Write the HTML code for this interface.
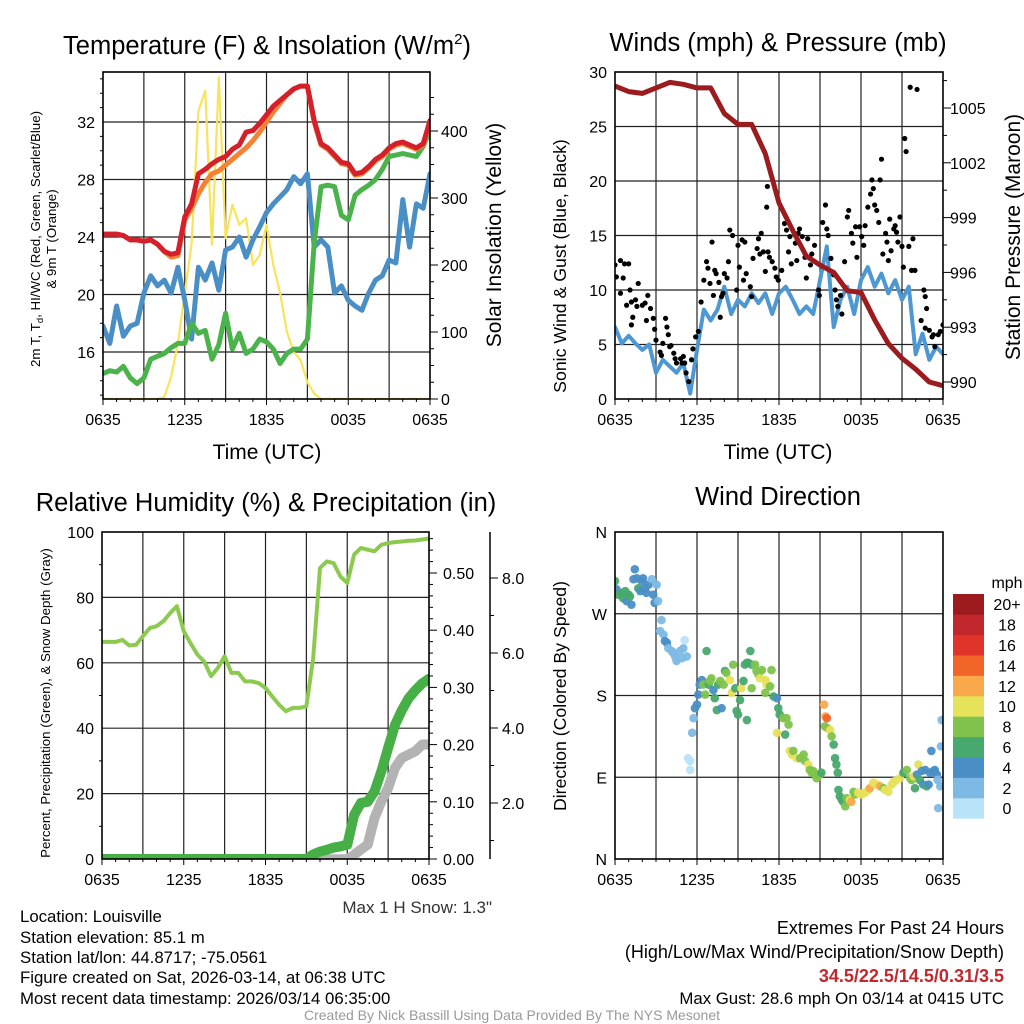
<!DOCTYPE html>
<html><head><meta charset="utf-8"><style>
html,body{margin:0;padding:0;background:#fff;}
svg{display:block;font-family:"Liberation Sans",Arial,sans-serif;}
</style></head><body>
<svg id="c" width="1024" height="1024" viewBox="0 0 1024 1024" xmlns="http://www.w3.org/2000/svg">
<defs>
<clipPath id="cp1"><rect x="103" y="72" width="327" height="327"/></clipPath>
<clipPath id="cp2"><rect x="615" y="72" width="328" height="327"/></clipPath>
<clipPath id="cp3"><rect x="102" y="532" width="327" height="327"/></clipPath>
<clipPath id="cp4"><rect x="615" y="532" width="328" height="327"/></clipPath>
</defs>
<g font-size="25.5" text-anchor="middle" fill="#000">
<text x="267" y="54">Temperature (F) &amp; Insolation (W/m<tspan font-size="15" dy="-10">2</tspan><tspan dy="10">)</tspan></text>
<text x="778" y="51">Winds (mph) &amp; Pressure (mb)</text>
<text x="266" y="511">Relative Humidity (%) &amp; Precipitation (in)</text>
<text x="778" y="505">Wind Direction</text>
</g>
<g font-size="21" text-anchor="middle">
<text x="267" y="459">Time (UTC)</text>
<text x="778" y="459">Time (UTC)</text>
<text transform="translate(501,235) rotate(-90)">Solar Insolation (Yellow)</text>
<text transform="translate(1020,237) rotate(-90)">Station Pressure (Maroon)</text>
</g>
<g font-size="17.7" text-anchor="middle">
<text transform="translate(566,266) rotate(-90)">Sonic Wind &amp; Gust (Blue, Black)</text>
<text transform="translate(566,696) rotate(-90)">Direction (Colored By Speed)</text>
</g>
<g font-size="13.3" text-anchor="middle">
<text transform="translate(40,239) rotate(-90)">2m T, T<tspan font-size="9.5" dy="3">d</tspan><tspan dy="-3">, HI/WC (Red, Green, Scarlet/Blue)</tspan></text>
<text transform="translate(56,239) rotate(-90)">&amp; 9m T (Orange)</text>
<text transform="translate(50,703) rotate(-90)">Percent, Precipitation (Green), &amp; Snow Depth (Gray)</text>
</g>
<g id="layer"></g>
<g font-size="16.8" fill="#000">
<text x="20" y="922">Location: Louisville</text>
<text x="20" y="943">Station elevation: 85.1 m</text>
<text x="20" y="963">Station lat/lon: 44.8717; -75.0561</text>
<text x="20" y="983">Figure created on Sat, 2026-03-14, at 06:38 UTC</text>
<text x="20" y="1004">Most recent data timestamp: 2026/03/14 06:35:00</text>
<text x="492" y="913" text-anchor="end" fill="#333" font-size="17">Max 1 H Snow: 1.3"</text>
<text x="1004" y="934" text-anchor="end" font-size="18">Extremes For Past 24 Hours</text>
<text x="1004" y="958" text-anchor="end" font-size="18">(High/Low/Max Wind/Precipitation/Snow Depth)</text>
<text x="1004" y="982" text-anchor="end" font-size="18" font-weight="bold" fill="#c1272d">34.5/22.5/14.5/0.31/3.5</text>
<text x="1004" y="1004" text-anchor="end">Max Gust: 28.6 mph On 03/14 at 0415 UTC</text>
<text x="512" y="1020" text-anchor="middle" font-size="14" fill="#999">Created By Nick Bassill Using Data Provided By The NYS Mesonet</text>
</g>
</svg>
<script>
// ---- data (time in hours since 0635 UTC) ----
const timeLabels=["0635","1235","1835","0035","0635"];
const tempRed=[24.2,24.2,24.2,24.1,23.8,23.8,23.7,23.8,23.5,23.0,22.8,22.9,25.4,26.3,28.4,28.7,29.1,29.4,29.6,30.1,30.4,31.3,31.4,31.9,32.5,33.1,33.5,33.9,34.3,34.5,34.5,32.1,30.5,30.2,29.7,29.2,29.1,28.4,28.5,28.9,29.4,29.7,30.2,30.5,30.6,30.4,30.2,30.5,32.1];
const tempOrange=[24.2,24.2,24.2,24.1,23.8,23.8,23.7,23.8,23.5,23.0,22.6,22.7,25.2,26.0,27.0,27.8,28.4,28.6,29.0,29.4,29.8,30.2,30.7,31.3,32.0,32.7,33.3,33.9,34.3,34.5,34.5,32.0,30.4,30.1,29.6,29.1,29.0,28.3,28.4,28.8,29.3,29.6,30.1,30.4,30.5,30.3,30.1,30.4,32.0];
const dewGreen=[14.5,14.7,14.6,15.0,14.2,13.8,14.2,15.5,15.7,15.9,16.3,16.6,16.6,18.0,17.3,17.5,15.5,16.5,18.7,16.2,17.3,15.9,16.2,16.9,16.7,16.2,15.2,15.9,16.2,16.2,16.9,23.6,27.5,27.6,27.5,25.5,25.2,26.9,27.3,27.6,28.0,28.7,29.6,29.7,29.8,29.7,29.6,30.3,31.4];
const chillBlue=[17.8,16.6,19.2,17.1,17.8,18.0,20.1,21.3,20.6,21.0,20.1,21.9,19.6,16.9,21.9,21.0,22.2,20.3,23.1,23.3,24.0,22.6,23.8,24.7,25.7,26.3,26.8,27.3,28.2,27.7,28.4,23.3,23.8,23.3,20.1,20.6,19.6,19.2,18.9,20.1,21.0,21.3,22.4,22.2,26.6,23.3,26.3,26.0,28.4];
const solar=[0,0,0,0,0,0,0,0,0,3,33,83,158,232,430,460,230,480,240,290,260,270,200,215,260,200,158,100,70,58,25,8,0,0,0,0,0,0,0,0,0,0,0,0,0,0,0,0,0];
const windSonic=[6.6,5.1,5.8,5.1,4.5,5.0,2.4,3.6,3.0,2.4,3.3,0.5,4.5,8.2,7.2,8.2,10.3,7.8,9.1,8.5,9.7,8.8,9.7,7.8,9.7,10.3,9.1,7.8,8.5,7.8,10.9,14.0,6.6,9.1,10.3,7.8,10.9,12.1,10.3,11.5,9.7,10.9,9.1,10.3,4.1,6.0,3.6,4.8,4.1];
const pressure=[1006.2,1005.9,1005.8,1006.1,1006.4,1006.3,1006.1,1006.1,1004.7,1004.1,1004.1,1002.5,999.8,998.3,996.9,996.4,996.0,995.0,994.9,993.4,992.1,991.3,990.7,990.0,989.8];
const gustT=[0,0.1,0.4,0.6,0.4,0.7,1.0,1.1,0.85,1.2,1.5,1.7,1.6,1.3,1.2,2.0,2.2,2.4,2.6,2.3,2.8,2.9,3.0,3.3,3.4,3.7,3.8,3.9,3.5,4.0,4.1,4.3,4.4,4.5,4.8,4.9,5.0,5.1,5.2,5.4,5.6,5.7,5.9,6.1,6.3,6.5,6.7,6.8,6.95,7.1,7.2,7.3,7.4,7.6,7.7,7.8,7.9,8.0,8.2,8.3,8.4,8.6,8.9,9.0,9.1,9.3,9.4,9.5,9.6,9.9,10.0,10.1,10.4,10.5,10.6,10.7,10.85,11.0,11.1,11.15,11.2,11.3,11.5,11.7,11.8,11.95,12.2,12.4,12.55,12.7,12.8,12.9,13.2,13.3,13.4,13.5,13.7,13.9,14.0,14.1,14.3,14.4,14.6,14.9,14.95,15.2,15.4,15.5,15.6,15.8,16.0,16.1,16.2,16.3,16.5,16.6,16.8,17.0,17.1,17.3,17.4,17.6,17.7,17.9,18.05,18.2,18.3,18.5,18.7,18.8,18.9,19.0,19.15,19.3,19.4,19.5,19.6,19.8,19.9,20.0,20.1,20.2,20.4,20.5,20.6,20.7,20.85,21.0,21.1,21.2,21.3,21.5,21.6,21.7,21.8,21.95,22.1,22.6,22.7,22.8,22.4,22.7,23.0,23.2,23.3,23.4,23.65,23.8,24.0];
const gustV=[12.3,11.2,12.7,11.1,9.7,12.4,12.4,10.0,8.6,8.9,9.1,10.6,8.5,7.5,6.8,8.6,8.8,9.5,8.3,7.2,7.4,6.4,5.4,4.3,4.0,7.4,6.6,5.9,5.1,4.8,4.9,4.2,3.7,3.3,3.7,3.3,3.9,3.3,2.4,1.6,3.6,4.6,5.7,6.2,8.9,10.9,12.6,12.0,10.6,14.4,9.5,11.8,11.5,10.7,7.5,9.4,9.7,11.5,11.1,12.6,15.5,15.0,10.0,14.1,12.1,14.6,10.9,14.4,11.5,10.3,9.4,12.9,13.8,14.7,13.3,15.2,13.5,11.7,17.6,19.5,13.5,13.0,12.6,12.0,11.2,10.9,11.8,16.1,15.5,13.5,14.9,12.4,14.3,12.7,15.2,15.6,14.9,13.0,11.1,14.7,12.3,13.3,14.1,10.0,9.5,16.2,17.8,15.6,15.0,12.9,11.4,10.0,9.1,8.5,9.5,7.8,12.6,16.7,17.3,15.2,14.3,15.8,13.0,15.8,14.9,14.1,15.9,17.6,18.8,20.1,19.3,17.8,17.3,16.2,20.1,22.0,13.3,15.2,14.4,12.7,16.5,13.6,15.6,15.9,15.3,14.4,16.7,14.0,12.1,23.9,22.7,14.0,28.6,11.8,14.7,11.8,28.4,10.0,9.4,8.3,7.2,6.5,6.3,5.7,5.9,4.8,5.9,6.2,6.8];
const rhGreen=[66.4,66.4,66.4,67,65.3,65.5,68.1,70.6,71.2,72.7,75.2,77.3,69.6,66.0,62.5,60.4,55.9,58.4,62.0,56.9,56.9,54.3,54.3,53.8,52.3,49.7,47.2,45.2,46.2,46.2,46.7,61.5,89,91,90.5,86.4,84.4,93.1,95.1,94.6,94.1,96.1,96.6,96.9,97.1,97.3,97.4,97.7,98.0];
const precip=[0,0,0,0,0,0,0,0,0,0,0,0,0,0,0,0,0,0,0,0,0,0,0,0,0,0,0,0,0,0,0,0.008,0.013,0.016,0.02,0.022,0.025,0.077,0.098,0.10,0.118,0.153,0.194,0.234,0.26,0.281,0.295,0.307,0.315];
const snowDepth=[0.5,0.5,0.5,0.5,0.5,0.5,0.5,0.5,0.5,0.5,0.5,0.5,0.5,0.5,0.5,0.5,0.5,0.5,0.5,0.5,0.5,0.5,0.5,0.5,0.5,0.5,0.5,0.5,0.5,0.5,0.5,0.5,0.5,0.5,0.5,0.5,0.5,0.62,0.76,0.89,1.6,2.04,2.4,2.93,3.2,3.29,3.38,3.56,3.56];
const dirT=[0,0.1,0.25,0.5,0.6,0.75,0.85,1.0,1.1,1.2,1.35,1.45,1.6,1.7,1.85,1.95,2.05,2.2,2.3,2.45,2.7,2.8,2.9,3.05,3.15,3.4,3.3,3.55,3.65,3.8,3.9,4.15,4.25,4.4,4.5,4.75,5.0,5.1,5.25,4.9,5.5,5.35,5.5,5.65,5.75,5.85,6.0,6.1,6.2,6.35,6.45,6.6,6.7,6.85,6.95,7.05,7.2,7.3,7.45,7.55,7.7,7.8,7.95,8.05,8.15,8.4,8.55,8.65,8.8,8.9,9.0,9.15,9.25,9.4,9.65,9.9,10.0,9.5,9.65,9.75,10.0,10.25,10.35,10.5,10.6,10.75,11.0,11.1,11.2,11.35,11.0,11.45,11.6,11.85,11.95,12.05,12.3,12.55,11.85,12.45,12.7,12.8,12.95,13.05,13.3,13.55,13.8,13.9,14.15,14.25,14.4,14.5,14.65,14.75,15.0,15.1,15.3,15.4,15.5,15.55,15.35,15.75,15.85,16.0,16.1,16.2,16.3,16.35,16.45,16.6,16.7,16.85,16.95,17.2,17.3,17.45,17.55,17.8,18.05,18.3,18.55,18.65,18.9,19.15,19.4,19.65,19.75,20.0,20.25,20.35,20.5,20.85,21.1,21.35,21.6,21.7,21.85,21.95,22.1,22.2,22.3,22.45,22.55,22.7,22.8,22.95,23.05,23.15,23.3,23.4,23.55,23.6,23.65,23.8,23.85,23.9];
const dirDeg=[306,297,291,293,287,295,284,291,289,280,308,319,309,298,295,306,309,298,293,302,308,291,282,302,284,263,251,247,240,238,232,229,227,223,218,229,232,241,223,221,108,111,98,139,155,166,170,181,192,197,192,181,229,192,196,199,186,177,164,192,196,166,192,207,205,197,183,214,188,163,159,175,188,196,153,229,188,214,216,216,214,214,207,203,199,208,197,192,192,190,183,208,179,177,166,159,155,155,139,137,148,119,115,119,111,111,115,108,104,98,95,97,93,89,93,95,170,157,155,144,146,142,135,126,111,104,95,76,69,65,63,58,67,65,63,74,71,73,71,73,76,78,84,82,80,78,76,74,82,84,86,89,95,98,89,87,91,78,93,104,87,97,82,98,80,82,95,119,97,98,93,87,56,80,124,153,155,177];
const dirSpd=[6,4,6,6,6,6,4,6,6,4,4,4,4,6,4,4,4,4,4,4,2,4,4,2,2,2,2,2,4,4,2,2,2,2,2,2,2,0,2,2,0,0,0,2,2,4,4,4,4,4,8,8,6,6,8,8,4,6,6,6,8,4,8,6,8,10,10,8,6,6,6,6,10,6,6,6,8,6,6,6,6,8,8,8,10,8,10,10,10,8,8,8,6,4,6,6,8,8,10,6,8,10,10,8,10,8,8,8,10,8,8,8,8,8,8,6,12,12,14,12,8,10,8,6,6,6,6,6,6,6,6,8,8,10,12,8,8,10,10,10,10,12,10,10,12,8,10,10,10,10,10,10,6,8,8,8,10,6,4,10,6,4,4,4,6,4,4,4,4,4,4,2,2,2,2,2,4];
const speedColors=["#b9e3f8","#7db9e5","#4a8ec6","#48a96e","#7fc34d","#e6e25a","#f9a94b","#f26529","#e0342b","#c1272d","#9b1b1e"];
const speedLabels=["0","2","4","6","8","10","12","14","16","18","20+"];

const NS="http://www.w3.org/2000/svg";
const L=document.getElementById('layer');
const FS=16;
function mk(tag,attrs,parent){const e=document.createElementNS(NS,tag);for(const k in attrs)e.setAttribute(k,attrs[k]);(parent||L).appendChild(e);return e;}
function lin(d0,d1,r0,r1){return v=>r0+(v-d0)/(d1-d0)*(r1-r0);}
const P1={x0:103,x1:430,y0:72,y1:399},P2={x0:615,x1:943,y0:72,y1:399},P3={x0:102,x1:429,y0:532,y1:859},P4={x0:615,x1:943,y0:532,y1:859};
function frame(P,name){
  const g=mk('g',{});
  
  
  const xs=lin(0,24,P.x0,P.x1);
  for(let h=3;h<24;h+=3){const l=mk('line',{x1:xs(h),x2:xs(h),y1:P.y0,y2:P.y1,stroke:'#222','stroke-width':1.2},g);
    }
  for(let h=0;h<=24;h+=1){mk('line',{x1:xs(h),x2:xs(h),y1:P.y1,y2:P.y1+(h%6==0?6:3),stroke:'#000'},g);}
  timeLabels.forEach((s,i)=>{const t=mk('text',{x:xs(i*6),y:P.y1+26,'font-size':FS,'text-anchor':'middle'},g);t.textContent=s;
    });
  return xs;
}
function hgrid(P,ys,vals,labels,side,g){
  vals.forEach((v,i)=>{
    const y=ys(v);
    if(y>P.y0+1&&y<P.y1-1){const l=mk('line',{x1:P.x0,x2:P.x1,y1:y,y2:y,stroke:'#222','stroke-width':1.2},g);
      }
    if(labels){const t=mk('text',{x:side=='left'?P.x0-8:P.x1+10,y:y+6,'font-size':FS,'text-anchor':side=='left'?'end':'start'},g);t.textContent=labels[i];
      }
  });
}
function rticks(x,ys,vals,labels,minor,g,lx){
  minor.forEach(v=>mk('line',{x1:x,x2:x+4,y1:ys(v),y2:ys(v),stroke:'#000'},g));
  vals.forEach((v,i)=>{mk('line',{x1:x,x2:x+8,y1:ys(v),y2:ys(v),stroke:'#000'},g);
    const t=mk('text',{x:lx,y:ys(v)+6,'font-size':FS},g);t.textContent=labels[i];
    });
}
function border(P){mk('rect',{x:P.x0,y:P.y0,width:P.x1-P.x0,height:P.y1-P.y0,fill:'none',stroke:'#000','stroke-width':1.6});}
function line(arr,xs,ys,color,w,clip,name,step){
  const pts=arr.map((v,i)=>xs(i*step).toFixed(1)+','+ys(v).toFixed(1)).join(' ');
  const p=mk('polyline',{points:pts,fill:'none',stroke:color,'stroke-width':w,'stroke-linejoin':'round','stroke-linecap':'round','clip-path':'url(#'+clip+')'});
  
  
  return p;
}
// Panel 1
{
  const xs=frame(P1,'temperature-panel');
  const yT=lin(16,32,352,122), yS=lin(0,400,399,131);
  const g=mk('g',{});
  hgrid(P1,yT,[16,20,24,28,32],["16","20","24","28","32"],'left',g);
  rticks(P1.x1,yS,[0,100,200,300,400],["0","100","200","300","400"],[25,50,75,125,150,175,225,250,275,325,350,375,425,450],g,P1.x1+11);
  [13,14,15,17,18,19,21,22,23,25,26,27,29,30,31,33,34,35].forEach(v=>mk('line',{x1:P1.x0,x2:P1.x0-3,y1:yT(v),y2:yT(v),stroke:'#000'}));
  line(solar,xs,yS,'#f8e45c',2.2,'cp1','solar-line',0.5);
  line(chillBlue,xs,yT,'#4a8ec6',5,'cp1','windchill-line',0.5);
  line(dewGreen,xs,yT,'#4bb34b',5,'cp1','dewpoint-line',0.5);
  line(tempOrange,xs,yT,'#f58233',5,'cp1','temp-9m-line',0.5);
  line(tempRed,xs,yT,'#d4202a',5,'cp1','temp-2m-line',0.5);
  border(P1);
}
// Panel 2
{
  const xs=frame(P2,'winds-panel');
  const yW=lin(0,30,399,72), yP=lin(990,1005,382,108);
  const g=mk('g',{});
  hgrid(P2,yW,[0,5,10,15,20,25,30],["0","5","10","15","20","25","30"],'left',g);
  rticks(P2.x1,yP,[990,993,996,999,1002,1005],["990","993","996","999","1002","1005"],[991.5,994.5,997.5,1000.5,1003.5,1006.5],g,P2.x1+7);
  line(windSonic,xs,yW,'#4d97d2',4,'cp2','sonic-wind-line',0.5);
  const gg=mk('g',{'clip-path':'url(#cp2)'});
  
  
  gustT.forEach((t,i)=>{const c=mk('circle',{cx:xs(t),cy:yW(gustV[i]),r:2.6,fill:'#000'},gg);
    });
  line(pressure,xs,yP,'#9b1b1e',5,'cp2','pressure-line',1);
  border(P2);
}
// Panel 3
{
  const xs=frame(P3,'humidity-panel');
  const yR=lin(0,100,859,532), yPr=lin(0,0.5,859,573), ySn=lin(0,8,878,578);
  const g=mk('g',{});
  hgrid(P3,yR,[0,20,40,60,80,100],["0","20","40","60","80","100"],'left',g);
  rticks(P3.x1,yPr,[0,0.1,0.2,0.3,0.4,0.5],["0.00","0.10","0.20","0.30","0.40","0.50"],[0.02,0.04,0.06,0.08,0.12,0.14,0.16,0.18,0.22,0.24,0.26,0.28,0.32,0.34,0.36,0.38,0.42,0.44,0.46,0.48,0.52,0.54,0.56],g,P3.x1+14);
  const ax=mk('line',{x1:490,x2:490,y1:532,y2:859,stroke:'#000','stroke-width':1.5});
  
  rticks(490,ySn,[2,4,6,8],["2.0","4.0","6.0","8.0"],[1,3,5,7],g,502);
  [10,30,50,70,90].forEach(v=>mk('line',{x1:P3.x0,x2:P3.x0-3,y1:yR(v),y2:yR(v),stroke:'#000'}));
  line(snowDepth,xs,ySn,'#b3b3b3',10,'cp3','snow-depth-line',0.5);
  line(precip,xs,yPr,'#46b046',10,'cp3','precip-line',0.5);
  line(rhGreen,xs,yR,'#8cca4f',4,'cp3','rh-line',0.5);
  border(P3);
}
// Panel 4
{
  const xs=frame(P4,'direction-panel');
  const yD=lin(0,360,859,532);
  const g=mk('g',{});
  hgrid(P4,yD,[0,90,180,270,360],["N","E","S","W","N"],'left',g);
  const gg=mk('g',{'clip-path':'url(#cp4)'});
  
  
  dirT.forEach((t,i)=>{const bin=Math.min(10,Math.round(dirSpd[i]/2));
    const c=mk('circle',{cx:xs(t),cy:yD(dirDeg[i]),r:4.3,fill:speedColors[bin],'fill-opacity':0.95},gg);
    });
  border(P4);
  // colorbar
  const cb=mk('g',{});
  
  
  const h=20.4, top=594;
  speedColors.forEach((c,i)=>{const y=top+(10-i)*h;
    const r=mk('rect',{x:953,y:y,width:31,height:h+0.3,fill:c},cb);
    
    const t=mk('text',{x:1007,y:y+h/2+6,'font-size':16,'text-anchor':'middle'},cb);t.textContent=speedLabels[i];
    });
  const u=mk('text',{x:1007,y:588,'font-size':16,'text-anchor':'middle'},cb);u.textContent='mph';
  
}
</script>
</body></html>
